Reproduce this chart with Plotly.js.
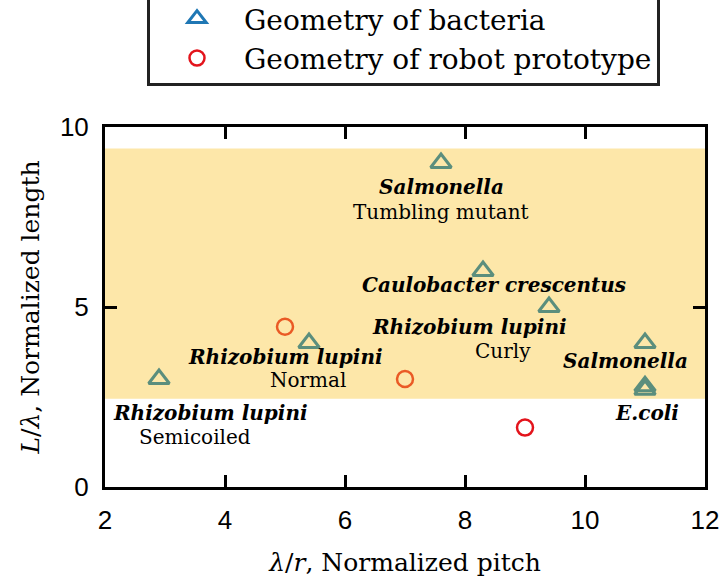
<!DOCTYPE html>
<html><head><meta charset="utf-8">
<script src="https://cdn.plot.ly/plotly-3.0.1.min.js"></script>
<style>body{margin:0;background:#fff}#c{width:724px;height:585px}</style>
</head><body><div id="c"></div>
<script>
const bacteriaX = [2.9, 5.4, 7.6, 8.3, 9.4, 11.0, 11.0, 11.0];
const bacteriaY = [3.0, 4.0, 9.0, 6.0, 5.0, 4.0, 2.8, 2.7];
const robotX = [5.0, 7.0, 9.0];
const robotY = [4.45, 3.0, 1.65];
const robotColors = ['#ea5a25', '#ea5a25', '#e3141c'];
const bandRange = [2.45, 9.4];
const xTicks = [2, 4, 6, 8, 10, 12];
const yTicks = [0, 5, 10];
const labelNames = ['Salmonella', 'Caulobacter crescentus', 'Rhizobium lupini', 'Rhizobium lupini', 'Salmonella', 'Rhizobium lupini', 'E.coli'];
const labelNameX = [7.6, 8.48, 8.07, 5.0, 10.68, 3.75, 11.03];
const labelNameY = [8.33, 5.6, 4.45, 3.62, 3.5, 2.06, 2.06];
const labelSubs = ['Tumbling mutant', 'Curly', 'Normal', 'Semicoiled'];
const labelSubX = [7.6, 8.63, 5.38, 3.5];
const labelSubY = [7.64, 3.78, 2.97, 1.4];

const serif = 'DejaVu Serif, serif';
const traces = [
  {x: bacteriaX, y: bacteriaY, mode: 'markers', type: 'scatter', showlegend: false,
   marker: {symbol: 'triangle-up-open', size: 18, color: '#5b8e7d', line: {width: 3}}},
  {x: robotX, y: robotY, mode: 'markers', type: 'scatter', showlegend: false,
   marker: {symbol: 'circle-open', size: 16, color: robotColors, line: {width: 2.5}}},
  {x: [null], y: [null], mode: 'markers', type: 'scatter', name: 'Geometry of bacteria',
   marker: {symbol: 'triangle-up-open', size: 17, color: '#1f77b4', line: {width: 3}}},
  {x: [null], y: [null], mode: 'markers', type: 'scatter', name: 'Geometry of robot prototype',
   marker: {symbol: 'circle-open', size: 15, color: '#e3141c', line: {width: 2.5}}}
];
const annotations = [];
labelNames.forEach((t, i) => annotations.push({x: labelNameX[i], y: labelNameY[i], xref: 'x', yref: 'y',
  text: '<b><i>' + t + '</i></b>', showarrow: false, font: {family: serif, size: 20, color: '#000'}}));
labelSubs.forEach((t, i) => annotations.push({x: labelSubX[i], y: labelSubY[i], xref: 'x', yref: 'y',
  text: t, showarrow: false, font: {family: serif, size: 20, color: '#000'}}));

const layout = {
  width: 724, height: 585,
  margin: {l: 105, r: 19, t: 127, b: 98, autoexpand: false},
  paper_bgcolor: '#fff', plot_bgcolor: '#fff',
  showlegend: true,
  legend: {x: 0.07, xanchor: 'left', y: 1.378, yanchor: 'top', bgcolor: '#fff', itemwidth: 84,
    bordercolor: '#222', borderwidth: 3, font: {family: serif, size: 28, color: '#000'}},
  xaxis: {range: [2, 12], tickvals: xTicks, ticks: 'inside', ticklen: 12, tickwidth: 3, tickcolor: '#000',
    showline: true, linewidth: 3, linecolor: '#000', mirror: 'ticks', showgrid: false, zeroline: false,
    ticklabelstandoff: 8,
    tickfont: {family: 'Liberation Sans, Arial, sans-serif', size: 26, color: '#000'},
    title: {text: '<i>λ</i>/<i>r</i>, Normalized pitch', font: {family: serif, size: 25, color: '#000'}, standoff: 20}},
  yaxis: {range: [0, 10], tickvals: yTicks, ticks: 'inside', ticklen: 12, tickwidth: 3, tickcolor: '#000',
    showline: true, linewidth: 3, linecolor: '#000', mirror: 'ticks', showgrid: false, zeroline: false,
    ticklabelstandoff: 8,
    tickfont: {family: 'Liberation Sans, Arial, sans-serif', size: 26, color: '#000'},
    title: {text: '<i>L</i>/<i>λ</i>, Normalized length', font: {family: serif, size: 25, color: '#000'}, standoff: 14}},
  shapes: [{type: 'rect', xref: 'x', yref: 'y', x0: xTicks[0], x1: xTicks[xTicks.length - 1],
    y0: bandRange[0], y1: bandRange[1], fillcolor: '#fde7a9', line: {width: 0}, layer: 'below'}],
  annotations: annotations
};
Plotly.newPlot('c', traces, layout, {displayModeBar: false, staticPlot: true});
</script></body></html>
